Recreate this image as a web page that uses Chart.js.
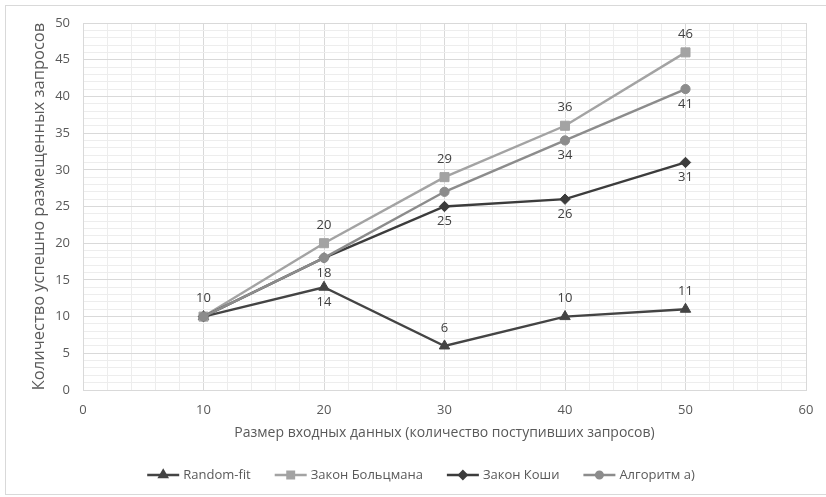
<!DOCTYPE html>
<html>
<head>
<meta charset="utf-8">
<script src="https://cdn.jsdelivr.net/npm/chart.js@4/dist/chart.umd.min.js"></script>
<style>
  html, body { margin: 0; padding: 0; background: #ffffff; }
  #wrap { width: 826px; height: 497px; position: relative; }
</style>
</head>
<body>
<div id="wrap"><canvas id="chart" width="826" height="497"></canvas></div>
<script>
// Input sizes (number of incoming requests)
const inputSizes = [10, 20, 30, 40, 50];

// Successfully placed requests per method
const randomFit = [10, 14, 6, 10, 11];
const boltzmann = [10, 20, 29, 36, 46];
const cauchy    = [10, 18, 25, 26, 31];
const algorithmA = [10, 18, 27, 34, 41];

const seriesNames = ['Random-fit', 'Закон Больцмана', 'Закон Коши', 'Алгоритм а)'];

const xTitle = 'Размер входных данных (количество поступивших запросов)';
const yTitle = 'Количество успешно размещенных запросов';

const FONT = '"Open Sans", "Noto Sans", sans-serif';
const TEXT = '#595959';

function pts(values) {
  return inputSizes.map((x, i) => ({ x: x, y: values[i] }));
}

function series(label, values, color, style, radius, order, labelPos) {
  return {
    label: label,
    data: pts(values),
    borderColor: color,
    backgroundColor: color,
    pointBackgroundColor: color,
    pointBorderColor: color,
    pointStyle: style,
    pointRadius: radius,
    pointBorderWidth: 1,
    borderWidth: 2.4,
    tension: 0,
    order: order,
    labelPos: labelPos
  };
}

// Value labels drawn next to the markers
const valueLabels = {
  id: 'valueLabels',
  afterDatasetsDraw(chart) {
    const ctx = chart.ctx;
    ctx.save();
    ctx.font = '13px ' + FONT;
    ctx.fillStyle = '#404040';
    ctx.textAlign = 'center';
    ctx.textBaseline = 'middle';
    chart.data.datasets.forEach((ds, di) => {
      const meta = chart.getDatasetMeta(di);
      meta.data.forEach((pt, i) => {
        const pos = ds.labelPos[i];
        if (!pos) return;
        const dy = pos === 'above' ? -18 : 15;
        ctx.fillText(String(ds.data[i].y), pt.x, pt.y + dy);
      });
    });
    ctx.restore();
  }
};

// Legend with a line segment and marker for each series
const lineLegend = {
  id: 'lineLegend',
  afterDraw(chart) {
    const ctx = chart.ctx;
    const H = Chart.helpers;
    ctx.save();
    ctx.font = '13px ' + FONT;
    const seg = 32, gapText = 4, gapItem = 24;
    const items = chart.data.datasets.map(ds => ({ ds, w: ctx.measureText(ds.label).width }));
    const total = items.reduce((s, it) => s + seg + gapText + it.w, 0) + gapItem * (items.length - 1);
    let x = 421 - total / 2;
    const y = 475;
    items.forEach(it => {
      const ds = it.ds;
      ctx.strokeStyle = ds.borderColor;
      ctx.lineWidth = ds.borderWidth;
      ctx.beginPath();
      ctx.moveTo(x, y);
      ctx.lineTo(x + seg, y);
      ctx.stroke();
      ctx.fillStyle = ds.backgroundColor;
      H.drawPoint(ctx, { pointStyle: ds.pointStyle, radius: ds.pointRadius * 0.72, borderWidth: 1, rotation: 0 }, x + seg / 2, y);
      ctx.fillStyle = TEXT;
      ctx.textAlign = 'left';
      ctx.textBaseline = 'middle';
      ctx.fillText(ds.label, x + seg + gapText, y);
      x += seg + gapText + it.w + gapItem;
    });
    ctx.restore();
  }
};

// Thin frame around the whole chart
const frame = {
  id: 'frame',
  beforeDraw(chart) {
    const ctx = chart.ctx;
    ctx.save();
    ctx.fillStyle = '#ffffff';
    ctx.fillRect(0, 0, chart.width, chart.height);
    ctx.strokeStyle = '#d9d9d9';
    ctx.lineWidth = 1;
    ctx.strokeRect(5.5, 5.5, 840, 489);
    ctx.restore();
  }
};

new Chart(document.getElementById('chart'), {
  type: 'line',
  data: {
    datasets: [
      series(seriesNames[0], randomFit, '#444444', 'triangle', 6, 4, [null, 'below', 'above', 'above', 'above']),
      series(seriesNames[1], boltzmann, '#a3a3a3', 'rect', 6.4, 3, ['above', 'above', 'above', 'above', 'above']),
      series(seriesNames[2], cauchy, '#3c3c3c', 'rectRot', 5.2, 2, [null, 'below', 'below', 'below', 'below']),
      series(seriesNames[3], algorithmA, '#8c8c8c', 'circle', 4.6, 1, [null, null, null, 'below', 'below'])
    ]
  },
  options: {
    responsive: false,
    animation: false,
    devicePixelRatio: 1,
    layout: { padding: { left: 0, top: 23, right: 20, bottom: 52 } },
    plugins: {
      legend: { display: false },
      tooltip: { enabled: false }
    },
    scales: {
      x: {
        type: 'linear',
        min: 0,
        max: 60,
        afterFit(scale) { scale.height = 55; },
        ticks: {
          stepSize: 2,
          autoSkip: false,
          maxRotation: 0,
          padding: 12,
          color: TEXT,
          font: { family: FONT, size: 13 },
          callback: v => (v % 10 === 0 ? String(v) : '')
        },
        grid: {
          drawTicks: false,
          color: ctx => (ctx.tick && ctx.tick.value % 10 === 0 ? '#d9d9d9' : '#ededed'),
          lineWidth: 1
        },
        border: { display: true, color: '#d9d9d9' },
        title: {
          display: true,
          text: xTitle,
          color: TEXT,
          font: { family: FONT, size: 14 },
          padding: { top: 0, bottom: 4 }
        }
      },
      y: {
        min: 0,
        max: 50,
        afterFit(scale) { scale.width = 83; },
        ticks: {
          stepSize: 1,
          autoSkip: false,
          padding: 13,
          color: TEXT,
          font: { family: FONT, size: 13 },
          callback: v => (v % 5 === 0 ? String(v) : '')
        },
        grid: {
          drawTicks: false,
          color: ctx => (ctx.tick && ctx.tick.value % 5 === 0 ? '#d9d9d9' : '#ededed'),
          lineWidth: 1
        },
        border: { display: true, color: '#d9d9d9' },
        title: {
          display: true,
          text: yTitle,
          color: TEXT,
          font: { family: FONT, size: 16.5 },
          padding: { top: 29, bottom: 0 }
        }
      }
    }
  },
  plugins: [frame, valueLabels, lineLegend]
});
</script>
</body>
</html>
